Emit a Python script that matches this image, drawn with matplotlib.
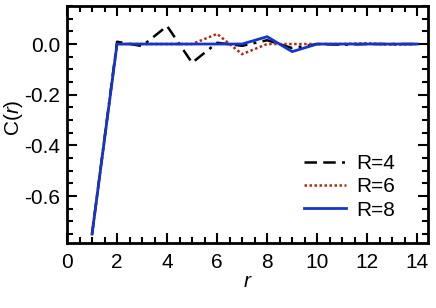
import matplotlib

matplotlib.use("Agg")
import matplotlib.pyplot as plt
from matplotlib.ticker import MultipleLocator

plt.rcParams["font.family"] = ["Liberation Sans", "DejaVu Sans"]
plt.rcParams["mathtext.fontset"] = "custom"
plt.rcParams["mathtext.it"] = "Liberation Sans:italic"
plt.rcParams["mathtext.rm"] = "Liberation Sans"

r = list(range(1, 15))
c_r4 = [-0.75, 0.009, -0.008, 0.071, -0.074, 0.005, -0.007, 0.015, -0.016, 0.0, -0.003, 0.0, 0.0, 0.0]
c_r6 = [-0.75, 0.0, 0.0, 0.0, 0.0, 0.04, -0.04, 0.0, 0.0, 0.0, 0.0, 0.003, -0.003, 0.0]
c_r8 = [-0.75, 0.0, 0.0, 0.0, 0.0, 0.0, 0.0, 0.029, -0.03, 0.0, 0.0, 0.0, 0.0, 0.0]

fig = plt.figure(figsize=(4.36, 3.08), dpi=100)
ax = fig.add_axes([0.1537, 0.211, 0.828, 0.7695])

ax.plot(r, c_r4, color="black", linestyle=(0, (5, 2.5, 5, 2.5, 1.2, 2.5)), linewidth=1.8, label="R=4")
ax.plot(r, c_r6, color="#b22a10", linestyle=(0, (1, 1)), linewidth=1.8, label="R=6")
ax.plot(r, c_r8, color="#1436c8", linestyle="-", linewidth=2.0, label="R=8")

ax.set_xlim(0, 14.43)
ax.set_ylim(-0.785, 0.15)
ax.xaxis.set_major_locator(MultipleLocator(2))
ax.xaxis.set_minor_locator(MultipleLocator(0.5))
ax.yaxis.set_major_locator(MultipleLocator(0.2))
ax.yaxis.set_minor_locator(MultipleLocator(0.05))
ax.set_yticks([-0.6, -0.4, -0.2, 0.0])
ax.set_yticklabels(["-0.6", "-0.4", "-0.2", "0.0"])

ax.tick_params(which="both", direction="in", top=True, right=True, width=1.5, labelsize=15)
ax.tick_params(which="major", length=7)
ax.tick_params(axis="x", which="major", pad=7)
ax.tick_params(axis="y", which="major", pad=5)
ax.tick_params(which="minor", length=4)
for s in ax.spines.values():
    s.set_linewidth(2)

ax.set_xlabel("$r$", fontsize=15, labelpad=0)
ax.set_ylabel("C($r$)", fontsize=15)
ax.yaxis.set_label_coords(-0.115, 0.53)

ax.legend(loc="lower right", frameon=False, fontsize=15, handlelength=2.0,
          handletextpad=0.5, labelspacing=0.2, bbox_to_anchor=(0.96, 0.02))

fig.savefig("out.png", dpi=100)
